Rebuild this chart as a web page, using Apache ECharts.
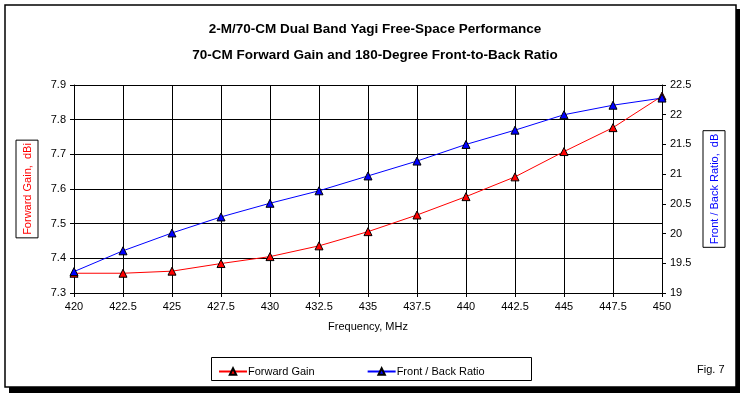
<!DOCTYPE html>
<html>
<head>
<meta charset="utf-8">
<script src="https://cdn.jsdelivr.net/npm/echarts@6/dist/echarts.min.js"></script>
<style>
  html, body { margin: 0; padding: 0; background: #fff; }
  #chart { width: 744px; height: 396px; }
</style>
</head>
<body>
<div id="chart"></div>
<script>
// 数据
const freqs = [420, 422.5, 425, 427.5, 430, 432.5, 435, 437.5, 440, 442.5, 445, 447.5, 450];
const forwardGain = [7.357, 7.357, 7.363, 7.385, 7.405, 7.436, 7.477, 7.525, 7.578, 7.635, 7.708, 7.777, 7.868];
const frontBack = [19.36, 19.71, 20.01, 20.28, 20.51, 20.72, 20.97, 21.22, 21.50, 21.74, 22.0, 22.16, 22.28];

document.addEventListener('DOMContentLoaded', function() {
    const chart = echarts.init(document.getElementById('chart'));
    const font = 'Liberation Sans, Arial, sans-serif';

    function pairs(vals) {
        return freqs.map(function(f, i) { return [f, vals[i]]; });
    }

    const option = {
        animation: false,
        backgroundColor: '#fff',
        textStyle: { fontFamily: font },
        graphic: [
            // 外框和阴影
            { type: 'rect', z: -10, shape: { x: 9, y: 9, width: 731, height: 384 }, style: { fill: '#000' } },
            { type: 'rect', z: -9, shape: { x: 5, y: 5, width: 731, height: 382 }, style: { fill: '#fff', stroke: '#000', lineWidth: 1.5 } },
            // 图例框
            { type: 'rect', z: 1, shape: { x: 211.5, y: 357.5, width: 320, height: 23 }, style: { fill: 'none', stroke: '#000', lineWidth: 1 } },
            { type: 'text', left: 697, top: 364, style: { text: 'Fig. 7', font: '11px ' + font, fill: '#000' } }
        ],
        title: {
            text: '2-M/70-CM Dual Band Yagi Free-Space Performance\n70-CM Forward Gain and 180-Degree Front-to-Back Ratio',
            left: 370,
            textAlign: 'center',
            top: 11,
            textStyle: { fontSize: 13.5, fontWeight: 'bold', color: '#000', lineHeight: 26, fontFamily: font }
        },
        legend: {
            left: 213,
            top: 361,
            itemWidth: 28,
            itemHeight: 8,
            itemGap: 52,
            textStyle: { fontSize: 11, color: '#000', fontFamily: font, padding: [0, 0, 0, -4] },
            data: ['Forward Gain', 'Front / Back Ratio']
        },
        grid: { left: 74, right: 82, top: 85, bottom: 103 },
        xAxis: {
            type: 'value',
            min: 420,
            max: 450,
            interval: 2.5,
            name: 'Frequency, MHz',
            nameLocation: 'middle',
            nameGap: 28,
            nameTextStyle: { fontSize: 11, color: '#000' },
            axisLine: { lineStyle: { color: '#000' } },
            axisTick: { length: 4, lineStyle: { color: '#000' } },
            axisLabel: { fontSize: 11, color: '#000', margin: 8 },
            splitLine: { show: true, lineStyle: { color: '#000', width: 1 } }
        },
        yAxis: [
            {
                type: 'value',
                min: 7.3,
                max: 7.9,
                interval: 0.1,
                name: 'Forward Gain,  dBi',
                nameLocation: 'middle',
                nameRotate: 90,
                nameGap: 36,
                nameTextStyle: {
                    fontSize: 11, color: '#ff0000',
                    borderColor: '#000', borderWidth: 1, padding: [6, 3, 5, 3]
                },
                axisLine: { show: true, lineStyle: { color: '#000' } },
                axisTick: { show: true, length: 4, lineStyle: { color: '#000' } },
                axisLabel: { fontSize: 11, color: '#000', formatter: function(v) { return v.toFixed(1); } },
                splitLine: { show: true, lineStyle: { color: '#000', width: 1 } }
            },
            {
                type: 'value',
                min: 19,
                max: 22.5,
                interval: 0.5,
                name: 'Front / Back Ratio,  dB',
                nameLocation: 'middle',
                nameRotate: 90,
                nameGap: 41,
                nameTextStyle: {
                    fontSize: 11, color: '#0000ff',
                    borderColor: '#000', borderWidth: 1, padding: [6, 3, 5, 3]
                },
                axisLine: { show: true, lineStyle: { color: '#000' } },
                axisTick: { show: true, length: 4, lineStyle: { color: '#000' } },
                axisLabel: { fontSize: 11, color: '#000' },
                splitLine: { show: false }
            }
        ],
        series: [
            {
                name: 'Forward Gain',
                type: 'line',
                yAxisIndex: 0,
                data: pairs(forwardGain),
                symbol: 'triangle',
                symbolSize: 8,
                lineStyle: { color: '#ff0000', width: 1 },
                itemStyle: { color: '#ff0000', borderColor: '#000', borderWidth: 1 }
            },
            {
                name: 'Front / Back Ratio',
                type: 'line',
                yAxisIndex: 1,
                data: pairs(frontBack),
                symbol: 'triangle',
                symbolSize: 8,
                lineStyle: { color: '#0000ff', width: 1 },
                itemStyle: { color: '#0000ff', borderColor: '#000', borderWidth: 1 }
            }
        ]
    };

    chart.setOption(option);
});
</script>
</body>
</html>
